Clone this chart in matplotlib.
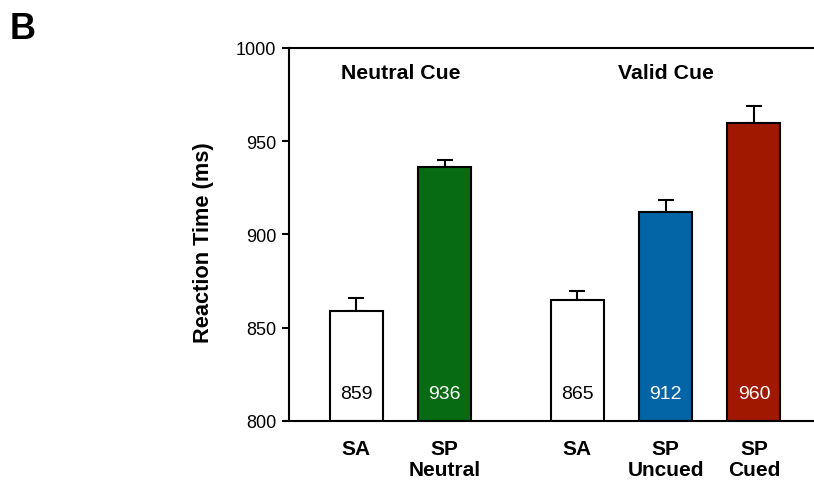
import numpy as np
import matplotlib
matplotlib.use('Agg')
import matplotlib.pyplot as plt

plt.rcParams['font.family'] = ['Liberation Sans', 'DejaVu Sans']

# data
conditions = ['SA', 'SP\nNeutral', 'SA', 'SP\nUncued', 'SP\nCued']
rt_means = [859, 936, 865, 912, 960]
rt_errors = [7, 4, 4.5, 6.5, 9]
bar_colors = ['white', '#066b12', 'white', '#0465a6', '#a01800']
label_colors = ['black', 'white', 'black', 'white', 'white']
group_titles = ['Neutral Cue', 'Valid Cue']
yticks = [800, 850, 900, 950, 1000]

# x positions: two groups with a gap
xpos = np.array([0, 1, 2.5, 3.5, 4.5])

fig = plt.figure(figsize=(8.14, 4.85), dpi=100, facecolor='white')
ax = fig.add_axes([0.355, 0.13, 0.645, 0.769])

ax.bar(xpos, np.array(rt_means) - 800, bottom=800, width=0.6,
       color=bar_colors, edgecolor='black', linewidth=1.5, zorder=2)
ax.errorbar(xpos, rt_means, yerr=[np.zeros(len(rt_errors)), rt_errors],
            fmt='none', ecolor='black', elinewidth=1.5, capsize=6,
            capthick=1.5, zorder=1)

for x, v, c in zip(xpos, rt_means, label_colors):
    ax.text(x, 814.5, str(v), ha='center', va='center', fontsize=14, color=c)

ax.text(0.5, 992, group_titles[0], ha='center', va='top',
        fontsize=15.3, fontweight='bold')
ax.text(3.5, 992, group_titles[1], ha='center', va='top',
        fontsize=15.3, fontweight='bold')

ax.set_ylim(800, 1000)
ax.set_xlim(-0.764, 5.18)
ax.set_yticks(yticks)
ax.set_yticklabels([str(t) for t in yticks], fontsize=13)
ax.set_xticks(xpos)
ax.set_xticklabels(conditions, fontsize=15, fontweight='bold', linespacing=1.1)
ax.tick_params(axis='x', length=0, pad=13)
ax.tick_params(axis='y', length=5, width=1.5, direction='out', pad=4)

ax.spines['right'].set_visible(False)
for s in ['left', 'top', 'bottom']:
    ax.spines[s].set_linewidth(1.5)

ax.set_ylabel('Reaction Time (ms)', fontsize=15.7, fontweight='bold',
              labelpad=16, y=0.48)

fig.text(0.012, 0.975, 'B', fontsize=26, fontweight='bold', va='top', ha='left')

fig.savefig('out.png', dpi=100, facecolor='white')
plt.close(fig)
